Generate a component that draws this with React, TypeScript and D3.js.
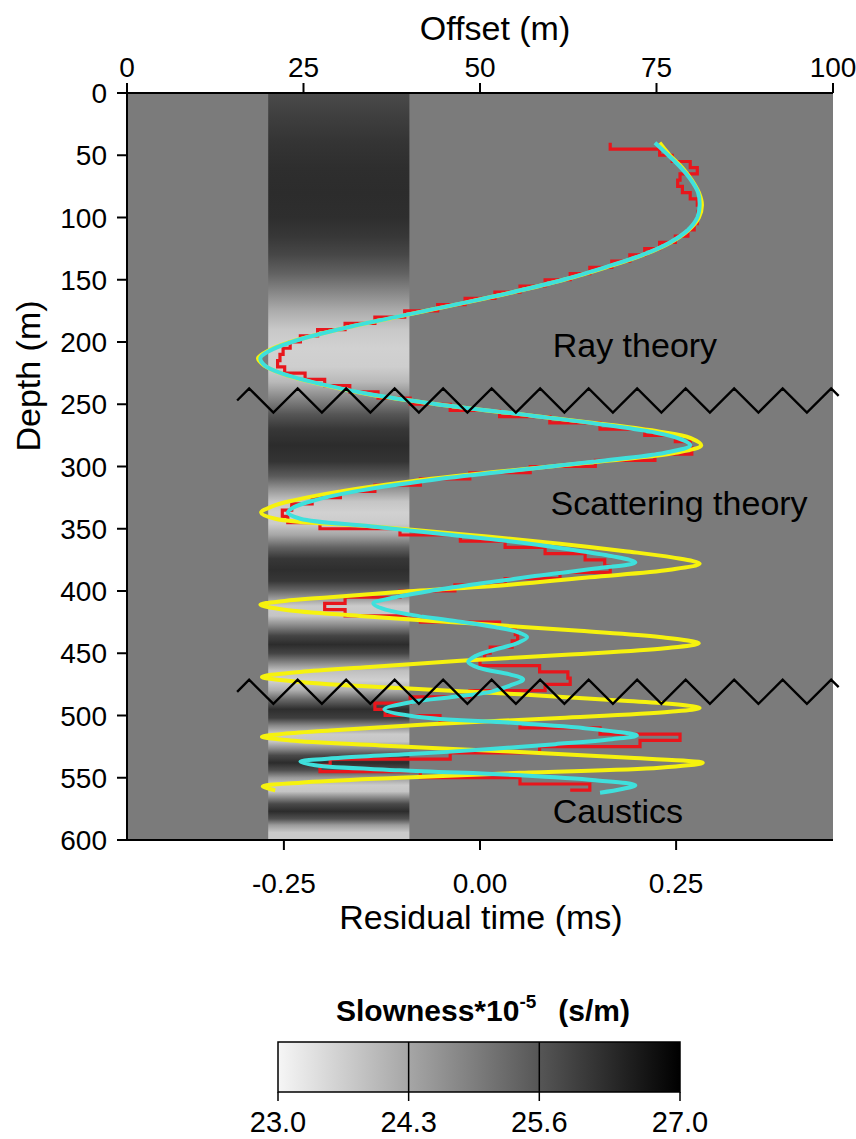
import React from 'react';
import * as d3 from 'd3';

// ---------- data ----------
const OFFSET_TICKS = [0, 25, 50, 75, 100];
const DEPTH_TICKS = [0, 50, 100, 150, 200, 250, 300, 350, 400, 450, 500, 550, 600];
const TIME_TICKS = [-0.25, 0, 0.25];
const SLOWNESS_TICKS = [23.0, 24.3, 25.6, 27.0];

const BAND_OFFSETS = [20, 40];
const BACKGROUND_SLOWNESS = 25.0;
const BAND_DEPTH = [0, 20, 40, 60, 80, 100, 115, 130, 145, 160, 175, 190, 205, 220, 232, 245, 258, 270, 283, 296, 308, 318, 328, 337, 346, 355, 365, 374, 383, 392, 399, 406, 412, 420, 428, 436, 443, 450, 457, 464, 472, 480, 487, 495, 502, 508, 515, 521, 527, 532, 538, 544, 550, 556, 561, 566, 571, 577, 583, 588, 594, 600];
const BAND_SLOWNESS = [25.8, 26.0, 26.15, 26.25, 26.28, 26.25, 26.1, 25.85, 25.4, 24.8, 24.2, 23.75, 23.6, 23.65, 24.0, 24.8, 25.6, 26.1, 26.28, 26.15, 25.5, 24.6, 23.8, 23.6, 23.7, 24.3, 25.4, 26.1, 26.25, 26.1, 25.4, 24.5, 23.7, 23.8, 24.8, 25.9, 26.28, 25.9, 24.9, 23.9, 23.6, 24.2, 25.3, 26.25, 26.0, 24.8, 23.7, 23.8, 24.8, 25.8, 26.28, 25.7, 24.5, 23.7, 23.8, 24.8, 25.8, 26.28, 25.7, 24.5, 23.7, 23.7];

// Ray theory (yellow)
const RAY_DEPTH = [40, 50, 60, 70, 80, 90, 100, 110, 120, 130, 140, 150, 160, 170, 180, 190, 200, 207, 213, 219, 226, 234, 242, 250, 259, 266, 272, 277, 283, 289, 296, 304, 312, 320, 327, 332, 337, 342, 348, 355, 362, 368, 373, 378, 383, 389, 395, 401, 405, 408, 411, 415, 420, 426, 432, 437, 442, 446, 451, 456, 461, 465, 469, 473, 478, 483, 488, 491, 494, 497, 502, 507, 512, 515, 517, 520, 524, 529, 534, 538, 542, 546, 550, 554, 557, 560];
const RAY_TIME = [0.229, 0.242, 0.258, 0.270, 0.279, 0.283, 0.279, 0.266, 0.243, 0.208, 0.161, 0.107, 0.042, -0.031, -0.107, -0.181, -0.242, -0.270, -0.283, -0.275, -0.250, -0.203, -0.142, -0.055, 0.064, 0.159, 0.229, 0.268, 0.282, 0.249, 0.153, 0.025, -0.089, -0.178, -0.236, -0.265, -0.279, -0.261, -0.140, -0.013, 0.102, 0.185, 0.245, 0.280, 0.242, 0.140, 0.038, -0.108, -0.191, -0.249, -0.280, -0.249, -0.153, -0.013, 0.127, 0.229, 0.279, 0.236, 0.115, -0.025, -0.140, -0.229, -0.278, -0.229, -0.102, 0.051, 0.178, 0.249, 0.280, 0.242, 0.102, -0.064, -0.191, -0.255, -0.278, -0.242, -0.127, 0.038, 0.191, 0.284, 0.229, 0.051, -0.102, -0.229, -0.277, -0.261];

// Scattering theory (cyan)
const SCAT_DEPTH = [40, 50, 60, 70, 80, 90, 100, 110, 120, 130, 140, 150, 160, 170, 180, 190, 200, 207, 213, 219, 226, 234, 242, 250, 259, 266, 272, 277, 283, 289, 296, 304, 312, 320, 327, 333, 337, 342, 348, 354, 360, 366, 372, 377, 382, 388, 394, 400, 406, 410, 414, 419, 424, 429, 433, 437, 442, 447, 452, 457, 462, 467, 471, 476, 481, 485, 489, 495, 501, 506, 511, 516, 519, 523, 527, 531, 534, 537, 540, 544, 548, 552, 556, 559, 562];
const SCAT_TIME = [0.223, 0.240, 0.256, 0.269, 0.278, 0.280, 0.277, 0.265, 0.242, 0.207, 0.159, 0.106, 0.041, -0.032, -0.108, -0.181, -0.240, -0.268, -0.280, -0.274, -0.249, -0.201, -0.140, -0.055, 0.064, 0.153, 0.217, 0.251, 0.268, 0.236, 0.147, 0.032, -0.076, -0.159, -0.210, -0.238, -0.245, -0.229, -0.140, -0.051, 0.038, 0.108, 0.168, 0.198, 0.147, 0.070, 0.000, -0.064, -0.115, -0.136, -0.125, -0.089, -0.032, 0.019, 0.048, 0.060, 0.047, 0.019, -0.005, -0.015, 0.000, 0.038, 0.055, 0.038, 0.013, -0.032, -0.085, -0.122, -0.080, 0.045, 0.147, 0.200, 0.168, 0.096, 0.013, -0.089, -0.178, -0.229, -0.210, -0.102, 0.051, 0.147, 0.198, 0.181, 0.153];

// Measured (red, stepped every 5 m)
const MEAS_DEPTH = [40, 45, 50, 55, 60, 65, 70, 75, 80, 85, 90, 95, 100, 105, 110, 115, 120, 125, 130, 135, 140, 145, 150, 155, 160, 165, 170, 175, 180, 185, 190, 195, 200, 205, 210, 215, 220, 225, 230, 235, 240, 245, 250, 255, 260, 265, 270, 275, 280, 285, 290, 295, 300, 305, 310, 315, 320, 325, 330, 335, 340, 345, 350, 355, 360, 365, 370, 375, 380, 385, 390, 395, 400, 405, 410, 415, 420, 425, 430, 435, 440, 445, 450, 455, 460, 465, 470, 475, 480, 485, 490, 495, 500, 505, 510, 515, 520, 525, 530, 535, 540, 545, 550, 555, 560];
const MEAS_TIME = [0.166, 0.229, 0.245, 0.268, 0.277, 0.255, 0.252, 0.258, 0.268, 0.277, 0.280, 0.278, 0.277, 0.273, 0.265, 0.249, 0.229, 0.210, 0.191, 0.168, 0.140, 0.115, 0.083, 0.051, 0.019, -0.019, -0.054, -0.096, -0.134, -0.172, -0.207, -0.229, -0.242, -0.251, -0.255, -0.258, -0.249, -0.223, -0.198, -0.166, -0.130, -0.089, -0.038, 0.025, 0.089, 0.153, 0.210, 0.249, 0.268, 0.270, 0.223, 0.147, 0.064, -0.013, -0.076, -0.134, -0.178, -0.214, -0.240, -0.252, -0.245, -0.204, -0.102, -0.025, 0.032, 0.083, 0.134, 0.159, 0.166, 0.102, 0.032, -0.032, -0.102, -0.172, -0.198, -0.172, -0.076, 0.025, 0.045, 0.048, 0.041, 0.013, 0.006, 0.000, 0.076, 0.112, 0.115, 0.083, -0.013, -0.089, -0.134, -0.121, -0.051, 0.051, 0.153, 0.255, 0.204, 0.076, -0.038, -0.191, -0.204, -0.076, 0.051, 0.140, 0.115];

const BREAK_DEPTHS = [247, 481];
const REGIME_LABELS = ['Ray theory', 'Scattering theory', 'Caustics'];
const REGIME_LABEL_DEPTH = [212, 339, 586];
const REGIME_LABEL_OFFSET = [60.3, 60.0, 60.3];

// ---------- layout ----------
const W = 856;
const H = 1139;
const PL = 127, PR = 833, PT = 93, PB = 840;
const FONT = "'Liberation Sans', Arial, Helvetica, sans-serif";

const xOff = d3.scaleLinear().domain([0, 100]).range([PL, PR]);
const xTime = d3.scaleLinear().domain([-0.45, 0.45]).range([PL, PR]);
const yDep = d3.scaleLinear().domain([0, 600]).range([PT, PB]);
const gray = d3.scaleLinear<string>().domain([23, 27]).range(['#f6f6f6', '#000000']).interpolate(d3.interpolateRgb);

const CB_L = 278, CB_R = 680, CB_T = 1042, CB_B = 1092;
const xCb = d3.scaleLinear().domain([23, 27]).range([CB_L, CB_R]);

const fmtTime = (t: number) => d3.format('.2f')(t).replace('\u2212', '-');

function zigzag(center: number): [number, number][] {
  const start = 15.6, end = 100.8, period = 6.87, first = 17.3, half = 9.7;
  const pts: [number, number][] = [[start, center]];
  let k = 0;
  while (true) {
    const p = first + k * period;
    if (p > end) break;
    pts.push([p, center - half]);
    const t = p + period / 2;
    if (t > end) break;
    pts.push([t, center + half]);
    k++;
  }
  const last = pts[pts.length - 1];
  const dir = last[1] < center ? 1 : -1;
  const frac = (end - last[0]) / (period / 2);
  pts.push([end, last[1] + dir * 2 * half * frac]);
  return pts;
}

export default function App() {
  const smooth = d3.line<[number, number]>()
    .x((d) => xTime(d[1]))
    .y((d) => yDep(d[0]))
    .curve(d3.curveCatmullRom.alpha(0.5));
  const step = d3.line<[number, number]>()
    .x((d) => xTime(d[1]))
    .y((d) => yDep(d[0]))
    .curve(d3.curveStepBefore);
  const zz = d3.line<[number, number]>()
    .x((d) => xOff(d[0]))
    .y((d) => yDep(d[1]));

  const ray = RAY_DEPTH.map((d, i) => [d, RAY_TIME[i]] as [number, number]);
  const scat = SCAT_DEPTH.map((d, i) => [d, SCAT_TIME[i]] as [number, number]);
  const meas = MEAS_DEPTH.map((d, i) => [d, MEAS_TIME[i]] as [number, number]);

  return (
    <svg width={W} height={H} style={{ position: 'absolute', left: 0, top: 0, background: '#fff' }} fontFamily={FONT}>
      <defs>
        <linearGradient id="band" gradientUnits="userSpaceOnUse" x1={0} y1={yDep(0)} x2={0} y2={yDep(600)}>
          {BAND_DEPTH.map((d, i) => (
            <stop key={i} offset={d / 600} stopColor={gray(BAND_SLOWNESS[i])} />
          ))}
        </linearGradient>
        <linearGradient id="cbar" gradientUnits="userSpaceOnUse" x1={CB_L} y1={0} x2={CB_R} y2={0}>
          {SLOWNESS_TICKS.map((v, i) => (
            <stop key={i} offset={(v - 23) / 4} stopColor={gray(v)} />
          ))}
        </linearGradient>
      </defs>

      {/* background */}
      <rect x={PL} y={PT} width={PR - PL} height={PB - PT} fill={gray(BACKGROUND_SLOWNESS)} />
      <rect x={xOff(BAND_OFFSETS[0])} y={PT} width={xOff(BAND_OFFSETS[1]) - xOff(BAND_OFFSETS[0])} height={PB - PT} fill="url(#band)" />

      {/* curves */}
      <path d={step(meas) || ''} fill="none" stroke="#e8161c" strokeWidth={3.2} strokeLinejoin="miter" />
      <path d={smooth(ray) || ''} fill="none" stroke="#f6f20e" strokeWidth={4} strokeLinejoin="round" />
      <path d={smooth(scat) || ''} fill="none" stroke="#3fe0dc" strokeWidth={4} strokeLinejoin="round" />

      {/* regime breaks */}
      {BREAK_DEPTHS.map((c, i) => (
        <path key={i} d={zz(zigzag(c)) || ''} fill="none" stroke="#000" strokeWidth={2.4} strokeLinejoin="miter" />
      ))}

      {/* regime labels */}
      {REGIME_LABELS.map((t, i) => (
        <text key={t} x={xOff(REGIME_LABEL_OFFSET[i])} y={yDep(REGIME_LABEL_DEPTH[i])} fontSize={34} fill="#000">{t}</text>
      ))}

      {/* axes lines */}
      <line x1={PL} x2={PR} y1={PT} y2={PT} stroke="#000" strokeWidth={2} />
      <line x1={PL} x2={PL} y1={PT} y2={PB} stroke="#000" strokeWidth={2} />
      <line x1={PL} x2={PR} y1={PB} y2={PB} stroke="#000" strokeWidth={2} />

      {/* top axis */}
      {OFFSET_TICKS.map((t) => (
        <g key={t}>
          <line x1={xOff(t)} x2={xOff(t)} y1={PT} y2={PT - 10} stroke="#000" strokeWidth={2} />
          <text x={xOff(t)} y={PT - 16} textAnchor="middle" fontSize={28}>{t}</text>
        </g>
      ))}
      <text x={495} y={40} textAnchor="middle" fontSize={34}>Offset (m)</text>

      {/* left axis */}
      {DEPTH_TICKS.map((t) => (
        <g key={t}>
          <line x1={PL} x2={PL - 10} y1={yDep(t)} y2={yDep(t)} stroke="#000" strokeWidth={2} />
          <text x={PL - 20} y={yDep(t) + 10} textAnchor="end" fontSize={28}>{t}</text>
        </g>
      ))}
      <text transform="translate(40,376) rotate(-90)" textAnchor="middle" fontSize={34}>Depth (m)</text>

      {/* bottom axis */}
      {TIME_TICKS.map((t) => (
        <g key={t}>
          <line x1={xTime(t)} x2={xTime(t)} y1={PB} y2={PB + 10} stroke="#000" strokeWidth={2} />
          <text x={xTime(t)} y={893} textAnchor="middle" fontSize={28}>{fmtTime(t)}</text>
        </g>
      ))}
      <text x={481} y={929} textAnchor="middle" fontSize={34}>Residual time (ms)</text>

      {/* colour bar */}
      <text x={483} y={1021} textAnchor="middle" fontSize={30} fontWeight="bold">
        Slowness*10<tspan dy={-13} fontSize={19}>-5</tspan><tspan dy={13} dx={22}>(s/m)</tspan>
      </text>
      <rect x={CB_L} y={CB_T} width={CB_R - CB_L} height={CB_B - CB_T} fill="url(#cbar)" stroke="#000" strokeWidth={1.5} />
      {SLOWNESS_TICKS.map((v) => (
        <g key={v}>
          {v > 23 && v < 27 ? <line x1={xCb(v)} x2={xCb(v)} y1={CB_T} y2={CB_B} stroke="#000" strokeWidth={1.5} /> : null}
          <line x1={xCb(v)} x2={xCb(v)} y1={CB_B} y2={CB_B + 9} stroke="#000" strokeWidth={1.5} />
          <text x={xCb(v)} y={1132} textAnchor="middle" fontSize={29}>{d3.format('.1f')(v)}</text>
        </g>
      ))}
    </svg>
  );
}
